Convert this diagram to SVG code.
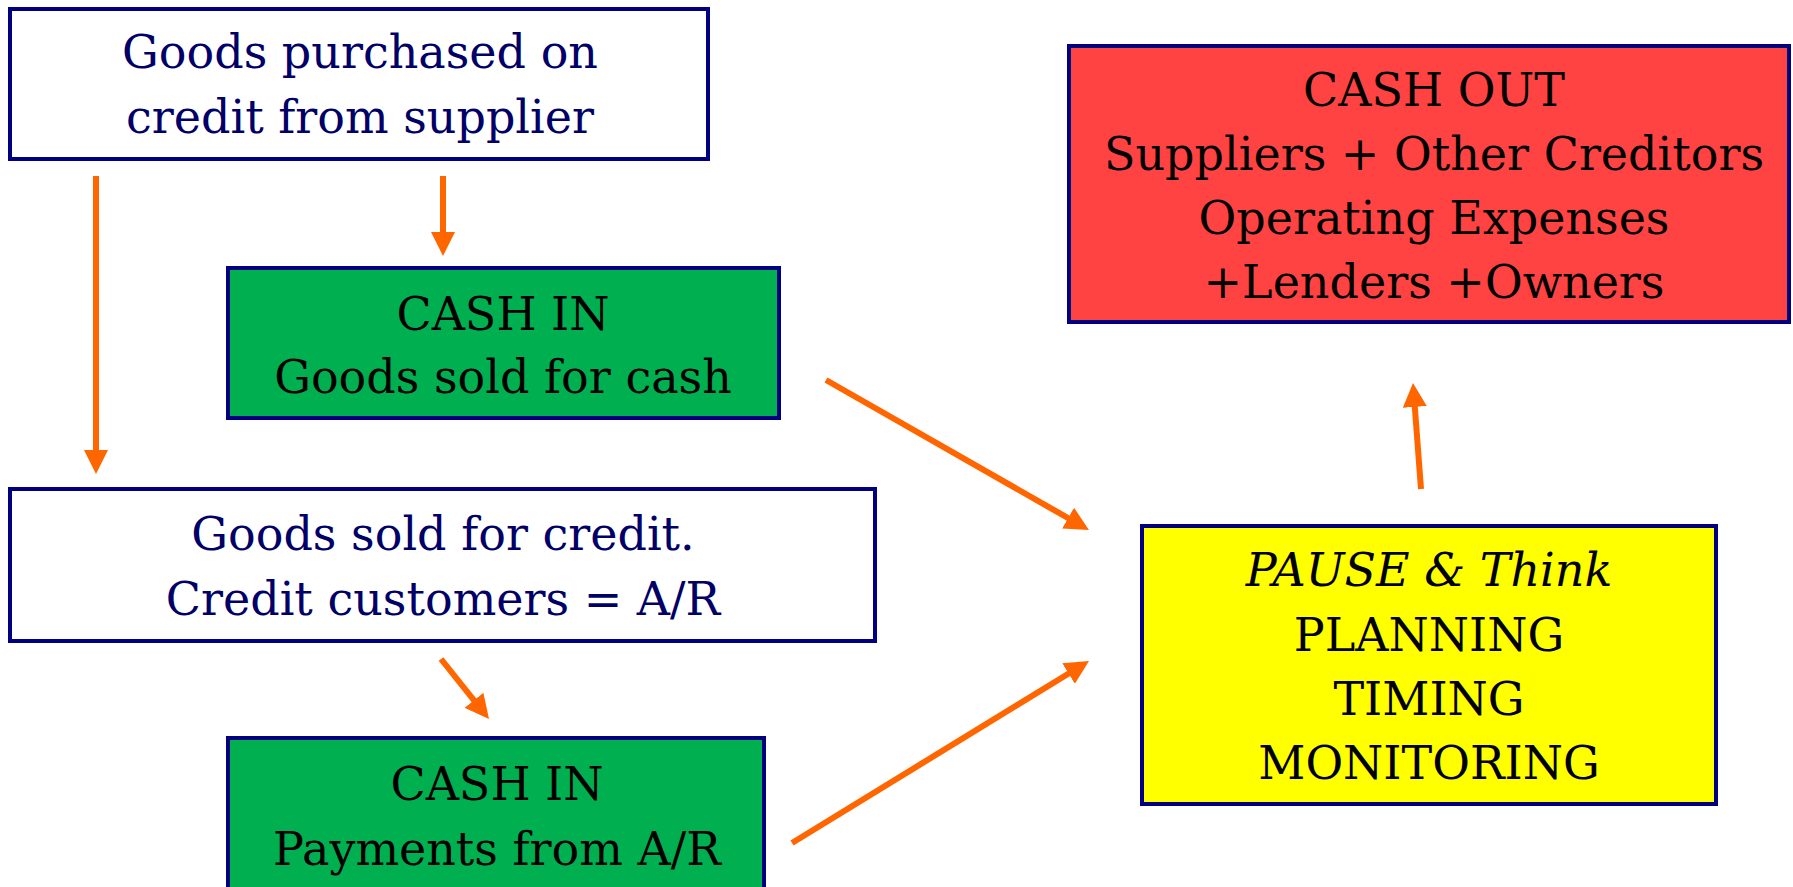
<svg xmlns="http://www.w3.org/2000/svg" width="1793" height="887" viewBox="0 0 1793 887">
<style>
.box{stroke:#000080;stroke-width:4}
.t{font-family:"DejaVu Serif","Liberation Serif",serif;font-size:46px;text-anchor:middle}
.navy{fill:#000066}
.blk{fill:#000000}
.conn line{stroke:#FF6600;stroke-width:6;marker-end:url(#ah)}
</style>
<defs>
<marker id="ah" markerUnits="userSpaceOnUse" markerWidth="24" markerHeight="24" refX="16" refY="12" orient="auto" viewBox="0 0 24 24">
<path d="M0,0 L24,12 L0,24 z" fill="#FF6600"/>
</marker>
</defs>
<rect width="1793" height="887" fill="#ffffff"/>
<g id="n1">
<rect class="box" x="10" y="9" width="698" height="150" fill="#ffffff"/>
<text class="t navy" x="360" y="68">Goods purchased on</text>
<text class="t navy" x="360" y="133">credit from supplier</text>
</g>
<g id="n2">
<rect class="box" x="228" y="268" width="551" height="150" fill="#00B050"/>
<text class="t blk" x="503" y="330">CASH IN</text>
<text class="t blk" x="503" y="393">Goods sold for cash</text>
</g>
<g id="n3">
<rect class="box" x="10" y="489" width="865" height="152" fill="#ffffff"/>
<text class="t navy" x="443" y="550">Goods sold for credit.</text>
<text class="t navy" x="443" y="615">Credit customers = A/R</text>
</g>
<g id="n4">
<rect class="box" x="228" y="738" width="536" height="170" fill="#00B050"/>
<text class="t blk" x="497" y="800">CASH IN</text>
<text class="t blk" x="497" y="865">Payments from A/R</text>
</g>
<g id="n5">
<rect class="box" x="1142" y="526" width="574" height="278" fill="#FFFF00"/>
<text class="t blk" x="1429" y="586" font-style="italic">PAUSE &amp; Think</text>
<text class="t blk" x="1429" y="651">PLANNING</text>
<text class="t blk" x="1429" y="715">TIMING</text>
<text class="t blk" x="1429" y="779">MONITORING</text>
</g>
<g id="n6">
<rect class="box" x="1069" y="46" width="720" height="276" fill="#FF4343"/>
<text class="t blk" x="1434" y="106">CASH OUT</text>
<text class="t blk" x="1434" y="170">Suppliers + Other Creditors</text>
<text class="t blk" x="1434" y="234">Operating Expenses</text>
<text class="t blk" x="1434" y="298">+Lenders +Owners</text>
</g>
<g id="connectors" class="conn">
<line x1="96" y1="176" x2="96" y2="466"/>
<line x1="443" y1="176" x2="443" y2="248"/>
<line x1="441" y1="659" x2="484" y2="712.8"/>
<line x1="826" y1="380" x2="1082" y2="526"/>
<line x1="792" y1="843" x2="1082.2" y2="665.2"/>
<line x1="1421" y1="489" x2="1413.6" y2="391"/>
</g>
</svg>
